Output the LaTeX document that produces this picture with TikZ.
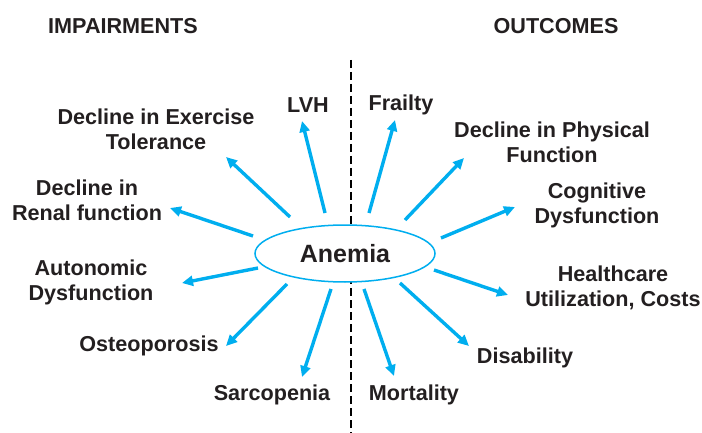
\documentclass[tikz,border=0pt]{standalone}
\usepackage{fontspec}
\setmainfont{Liberation Sans}
\usepackage{xcolor}
\usetikzlibrary{arrows.meta, positioning, shapes.geometric}

\definecolor{spokeblue}{RGB}{0,174,239}
\definecolor{textgray}{RGB}{35,31,32}

\begin{document}
\begin{tikzpicture}[x=0.5pt, y=-0.5pt, % pixel grid of the figure
          spoke/.style={draw=spokeblue, line width=1.7pt, -{Triangle[length=5.5pt, width=5pt]}},
          label/.style={font=\fontsize{10.8}{12.5}\selectfont\bfseries, text=textgray, align=center, inner sep=0pt},
          heading/.style={font=\fontsize{10.8}{12.5}\selectfont\bfseries, text=textgray, inner sep=0pt}
        ]
        \useasboundingbox (0,0) rectangle (702,433);

        % Headings
        \node[heading] (impairments) at (123,26) {IMPAIRMENTS};
        \node[heading] (outcomes) at (556,26) {OUTCOMES};

        % Dividing line
        \coordinate (divtop) at (351,60);
        \coordinate (divbot) at (351,433);
        \draw[black, line width=1pt, dash pattern=on 4pt off 2pt] (divtop) -- (divbot);

        % Central node
        \node[ellipse, draw=spokeblue, line width=0.75pt, fill=white,
              minimum width=90pt, minimum height=28.5pt, inner sep=0pt,
              font=\fontsize{12.5}{14}\selectfont\bfseries, text=textgray] (anemia) at (345,253.5) {Anemia};

        % Impairments
        \node[label] (lvh) at (308,105) {LVH};
        \node[label] (exercise) at (156,129) {Decline in Exercise\\Tolerance};
        \node[label] (renal) at (87,200) {Decline in\\Renal function};
        \node[label] (autonomic) at (91,282) {Autonomic\\Dysfunction};
        \node[label] (osteo) at (149,346) {Osteoporosis};
        \node[label] (sarco) at (272,395) {Sarcopenia};

        % Outcomes
        \node[label] (frailty) at (401,105) {Frailty};
        \node[label] (physical) at (552,142) {Decline in Physical\\Function};
        \node[label] (cognitive) at (597,205) {Cognitive\\Dysfunction};
        \node[label] (health) at (613,288) {Healthcare\\Utilization, Costs};
        \node[label] (disab) at (525,358) {Disability};
        \node[label] (mort) at (414,395) {Mortality};

        % Arrows out of the ellipse
        \foreach \name/\tx/\ty/\hx/\hy in {lvh/325/213/302/121, exercise/290/217/226/157,
                renal/253/236/170/208, autonomic/258/268/182/283, osteo/287/284/226/346,
                sarco/331/289/302/377, frailty/369/213/395/120, physical/405/220/464/158,
                cognitive/441/238/515/207, health/434/270/508/295, disab/400/283/469/346,
                mort/364/289/394/376} {
          \coordinate (\name-tail) at (\tx,\ty);
          \coordinate (\name-head) at (\hx,\hy);
          \draw[spoke] (\name-tail) -- (\name-head);
        }

\end{tikzpicture}
\end{document}
